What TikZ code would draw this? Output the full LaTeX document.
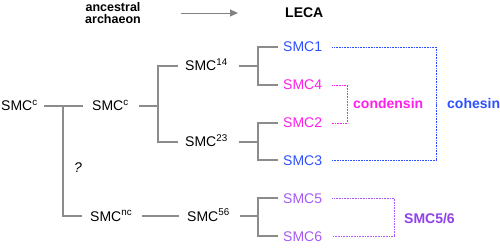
\documentclass[tikz,border=0pt]{standalone}
\usepackage{fontspec}
\setmainfont{Liberation Sans}
\usetikzlibrary{arrows.meta}
\definecolor{lgray}{RGB}{140,140,140}
\definecolor{agray}{RGB}{130,130,130}
\definecolor{cblue}{RGB}{45,80,255}
\definecolor{cmag}{RGB}{255,30,235}
\definecolor{cpur}{RGB}{165,90,245}
\definecolor{cpurd}{RGB}{145,65,235}
\begin{document}
\begin{tikzpicture}[x=1pt,y=-1pt,
  lbl/.style={inner sep=0pt, anchor=west, text height=10pt, text depth=0pt,
              font=\fontsize{14pt}{16pt}\selectfont},
  grp/.style={inner sep=0pt, anchor=west, text height=10pt, text depth=0pt,
              font=\fontsize{14pt}{16pt}\selectfont\bfseries},
  tree/.style={draw=lgray, line width=1.2pt},
  dots/.style={line width=0.8pt, dash pattern=on 0.8pt off 0.8pt},
 ]
\useasboundingbox (0,0) rectangle (500,248);

% header
\node[inner sep=0pt, align=center, font=\fontsize{12.5pt}{12pt}\selectfont\bfseries] (anc) at (113,13) {ancestral\\archaeon};
\node[grp] (leca) at (285,13) {LECA};
\draw[agray, line width=0.9pt, -{Triangle[length=8pt,width=7pt]}] ([xshift=40pt]anc.east) -- ([xshift=-47pt]leca.west);

% tree nodes
\node[lbl] (c1) at (1,106) {SMC\textsuperscript{c}};
\node[lbl] (c2) at (92,106) {SMC\textsuperscript{c}};
\node[lbl] (s14) at (185,66) {SMC\textsuperscript{14}};
\node[lbl] (s23) at (185,142) {SMC\textsuperscript{23}};
\node[lbl] (cnc) at (90,216) {SMC\textsuperscript{nc}};
\node[lbl] (s56) at (187,216) {SMC\textsuperscript{56}};
\node[lbl, text=cblue] (m1) at (283,47) {SMC1};
\node[lbl, text=cmag] (m4) at (283,85) {SMC4};
\node[lbl, text=cmag] (m2) at (283,123) {SMC2};
\node[lbl, text=cblue] (m3) at (283,160) {SMC3};
\node[lbl, text=cpur] (m5) at (283,198) {SMC5};
\node[lbl, text=cpur] (m6) at (283,236) {SMC6};
\node[inner sep=0pt, font=\fontsize{14pt}{16pt}\selectfont\itshape] (q) at (78,168) {?};

% junctions
\coordinate (j1) at (63,106);
\coordinate (j2) at (158,106);
\coordinate (j3) at (258,66);
\coordinate (j4) at (258,142);
\coordinate (j5) at (258,216);

% tree connectors
\draw[tree] ([xshift=6pt]c1.east) -- ([xshift=-9pt]c2.west);
\draw[tree] (j1) |- ([xshift=-8pt]cnc.west);
\draw[tree] ([xshift=10pt]c2.east) -- (j2);
\draw[tree] ([xshift=-7pt]s14.west) -| (j2) |- ([xshift=-7pt]s23.west);
\draw[tree] ([xshift=11pt]s14.east) -- (j3);
\draw[tree] ([xshift=-5pt]m1.west) -| (j3) |- ([xshift=-5pt]m4.west);
\draw[tree] ([xshift=11pt]s23.east) -- (j4);
\draw[tree] ([xshift=-5pt]m2.west) -| (j4) |- ([xshift=-5pt]m3.west);
\draw[tree] ([xshift=10pt]cnc.east) -- ([xshift=-8pt]s56.west);
\draw[tree] ([xshift=10pt]s56.east) -- (j5);
\draw[tree] ([xshift=-5pt]m5.west) -| (j5) |- ([xshift=-5pt]m6.west);

% groups
\node[grp, text=cmag] (cond) at (353,104) {condensin};
\node[grp, text=cblue] (coh) at (447,104) {cohesin};
\node[grp, text=cpurd] (s56g) at (404,218) {SMC5/6};

\draw[dots, cblue] ([xshift=10pt]m1.east) -| ([xshift=-11pt]coh.west) |- ([xshift=10pt]m3.east);
\draw[dots, cmag] ([xshift=10pt]m4.east) -| ([xshift=-6pt]cond.west) |- ([xshift=10pt]m2.east);
\draw[dots, cpur] ([xshift=10pt]m5.east) -| ([xshift=-10pt]s56g.west) |- ([xshift=10pt]m6.east);
\end{tikzpicture}
\end{document}
